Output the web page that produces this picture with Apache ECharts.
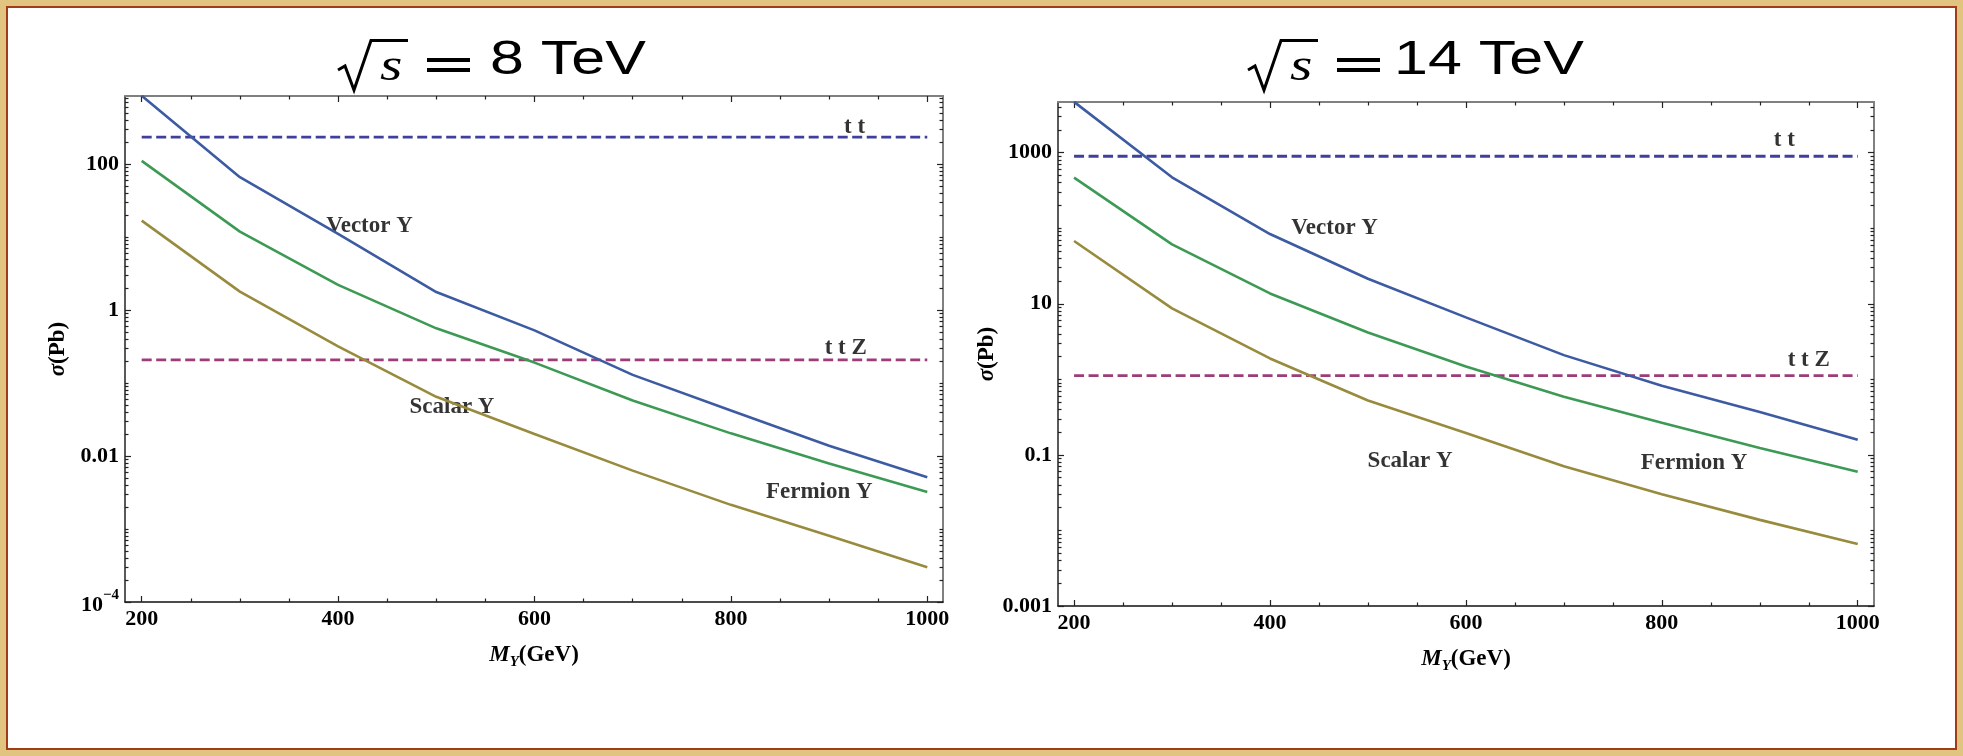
<!DOCTYPE html>
<html>
<head>
<meta charset="utf-8">
<script src="https://cdn.jsdelivr.net/npm/echarts@6/dist/echarts.min.js"></script>
<style>
  html, body { margin: 0; padding: 0; width: 1963px; height: 756px; overflow: hidden; background: #ffffff; }
  #frame { position: absolute; left: 0; top: 0; width: 1963px; height: 756px; box-sizing: border-box;
           border: 6px solid #e0c47f; background: #ffffff; }
  #inner { position: absolute; left: 0; top: 0; right: 0; bottom: 0; border: 2px solid #a23c16; }
  #chart { position: absolute; left: 0; top: 0; width: 1963px; height: 756px; }
</style>
</head>
<body>
<div id="frame"><div id="inner"></div></div>
<div id="chart"></div>
<script>
// ---------------- DATA ----------------
const massGeV = [200, 300, 400, 500, 600, 700, 800, 900, 1000];

// sqrt(s) = 8 TeV, cross sections in pb
const vector8  = [860, 65.8, 11.0, 1.76, 0.525, 0.129, 0.042, 0.0138, 0.0051];
const fermion8 = [110, 11.8, 2.2, 0.56, 0.19, 0.0575, 0.0204, 0.0079, 0.0032];
const scalar8  = [16.7, 1.78, 0.316, 0.0646, 0.020, 0.0063, 0.00214, 0.00081, 0.0003];
const ttbar8 = 232;
const ttZ8 = 0.207;

// sqrt(s) = 14 TeV, cross sections in pb
const vector14  = [4700, 472, 83.8, 21.4, 6.6, 2.09, 0.82, 0.37, 0.158];
const fermion14 = [467, 61.2, 13.7, 4.17, 1.48, 0.589, 0.266, 0.123, 0.060];
const scalar14  = [67.6, 8.7, 1.89, 0.525, 0.195, 0.0708, 0.0302, 0.0138, 0.0066];
const ttbar14 = 896;
const ttZ14 = 1.12;

// tick labels
const xTickValues = [200, 400, 600, 800, 1000];
const xTickLabels = ['200', '400', '600', '800', '1000'];
const xMinorTickValues = [250, 300, 350, 450, 500, 550, 650, 700, 750, 850, 900, 950];
const yTickDecades8 = [2, 0, -2, -4];
const yTickLabels8 = ['100', '1', '0.01', '{b|10}{s|\u22124}'];
const yTickDecades14 = [3, 1, -1, -3];
const yTickLabels14 = ['1000', '10', '0.1', '0.001'];

const seriesNames = ['Vector Y', 'Fermion Y', 'Scalar Y', 't t', 't t Z'];

// ---------------- LAYOUT / STYLE ----------------
const COLORS = { vector: '#3d5ba2', fermion: '#3d9a55', scalar: '#998b3d', tt: '#40409c', ttZ: '#9c3d78' };
const SERIF = '"Liberation Serif", "Times New Roman", serif';

const panels = [
  {
    grid: { left: 125, top: 96, width: 818, height: 506 },
    xMin: 183, xMax: 1016, yMin: 1e-4, yMax: 851,
    vector: vector8, fermion: fermion8, scalar: scalar8, tt: ttbar8, ttZ: ttZ8,
    tickDecades: yTickDecades8, tickLabels: yTickLabels8,
    annot: [[432, 14.2], [890, 0.0032], [516, 0.047], [926, 321], [917, 0.30]],
    yNameGap: 55, titleShift: 0, energy: '8'
  },
  {
    grid: { left: 1058, top: 102, width: 816, height: 504 },
    xMin: 183.6, xMax: 1016.6, yMin: 1e-3, yMax: 4680,
    vector: vector14, fermion: fermion14, scalar: scalar14, tt: ttbar14, ttZ: ttZ14,
    tickDecades: yTickDecades14, tickLabels: yTickLabels14,
    annot: [[466, 100], [833, 0.078], [543, 0.083], [925, 1470], [950, 1.8]],
    yNameGap: 56, titleShift: 910, energy: '14'
  }
];

const grids = [], xAxes = [], yAxes = [], series = [], graphics = [];

function minorLogTicks(lo, hi, majors) {
  const out = [];
  for (let k = Math.floor(lo) - 1; k <= Math.ceil(hi); k++) {
    for (let m = 1; m <= 9; m++) {
      const v = k + Math.log10(m);
      if (v >= lo - 1e-9 && v <= hi + 1e-9 && !(m === 1 && majors.indexOf(k) >= 0)) out.push(v);
    }
  }
  return out;
}

const tickLine = { color: '#222', width: 1.2 };
const xLabelMap = {};
xTickValues.forEach((v, i) => { xLabelMap[v] = xTickLabels[i]; });

panels.forEach((p, gi) => {
  grids.push(Object.assign({ containLabel: false }, p.grid));
  const lo = Math.log10(p.yMin), hi = Math.log10(p.yMax);
  const xb = xAxes.length;
  const xBase = { gridIndex: gi, type: 'value', min: p.xMin, max: p.xMax, splitLine: { show: false } };
  xAxes.push(
    Object.assign({}, xBase, {
      position: 'bottom',
      axisLine: { show: true, onZero: false, lineStyle: { color: '#111', width: 1.5 } },
      axisTick: { show: true, inside: true, length: 6, customValues: xTickValues, lineStyle: tickLine },
      axisLabel: { show: true, customValues: xTickValues, margin: 6, color: '#000',
                   formatter: v => xLabelMap[Math.round(v)] || '',
                   fontFamily: SERIF, fontWeight: 'bold', fontSize: 22 },
      name: '{m|M}{y|Y}{g|(GeV)}', nameLocation: 'middle', nameGap: 38,
      nameTextStyle: { rich: {
        m: { fontFamily: SERIF, fontStyle: 'italic', fontWeight: 'bold', fontSize: 23, color: '#000', lineHeight: 30, verticalAlign: 'middle' },
        y: { fontFamily: SERIF, fontStyle: 'italic', fontWeight: 'bold', fontSize: 15, color: '#000', lineHeight: 30, verticalAlign: 'bottom' },
        g: { fontFamily: SERIF, fontWeight: 'bold', fontSize: 23, color: '#000', lineHeight: 30, verticalAlign: 'middle' }
      } }
    }),
    Object.assign({}, xBase, {
      position: 'bottom', axisLine: { show: false, onZero: false },
      axisTick: { show: true, inside: true, length: 3.5, customValues: xMinorTickValues, lineStyle: tickLine },
      axisLabel: { show: false }
    }),
    Object.assign({}, xBase, {
      position: 'top',
      axisLine: { show: true, onZero: false, lineStyle: { color: '#808080', width: 2 } },
      axisTick: { show: true, inside: true, length: 6, customValues: xTickValues, lineStyle: tickLine },
      axisLabel: { show: false }
    }),
    Object.assign({}, xBase, {
      position: 'top', axisLine: { show: false, onZero: false },
      axisTick: { show: true, inside: true, length: 3.5, customValues: xMinorTickValues, lineStyle: tickLine },
      axisLabel: { show: false }
    })
  );

  const yb = yAxes.length;
  const minors = minorLogTicks(lo, hi, p.tickDecades);
  const yBase = { gridIndex: gi, type: 'value', min: lo, max: hi, splitLine: { show: false } };
  const labelMap = {};
  p.tickDecades.forEach((d, i) => { labelMap[d] = p.tickLabels[i]; });
  yAxes.push(
    { gridIndex: gi, type: 'log', logBase: 10, min: p.yMin, max: p.yMax, show: false,
      axisLine: { onZero: false }, splitLine: { show: false } },
    Object.assign({}, yBase, {
      position: 'left',
      axisLine: { show: true, onZero: false, lineStyle: { color: '#222', width: 1.5 } },
      axisTick: { show: true, inside: true, length: 6, customValues: p.tickDecades, lineStyle: tickLine },
      axisLabel: { show: true, customValues: p.tickDecades, margin: 6, color: '#000',
                   fontFamily: SERIF, fontWeight: 'bold', fontSize: 22,
                   formatter: v => { const k = Math.round(v); return labelMap[k] !== undefined ? labelMap[k] : ''; },
                   rich: {
                     b: { fontFamily: SERIF, fontWeight: 'bold', fontSize: 22, color: '#000', lineHeight: 28, verticalAlign: 'bottom' },
                     s: { fontFamily: SERIF, fontWeight: 'bold', fontSize: 15, color: '#000', lineHeight: 28, verticalAlign: 'top' }
                   } },
      name: '{s|\u03c3}{g|(Pb)}', nameLocation: 'middle', nameGap: p.yNameGap,
      nameTextStyle: { rich: {
        s: { fontFamily: SERIF, fontStyle: 'italic', fontWeight: 'bold', fontSize: 23, color: '#000' },
        g: { fontFamily: SERIF, fontWeight: 'bold', fontSize: 23, color: '#000' }
      } }
    }),
    Object.assign({}, yBase, {
      position: 'left', axisLine: { show: false, onZero: false },
      axisTick: { show: true, inside: true, length: 3.5, customValues: minors, lineStyle: tickLine },
      axisLabel: { show: false }
    }),
    Object.assign({}, yBase, {
      position: 'right',
      axisLine: { show: true, onZero: false, lineStyle: { color: '#808080', width: 2 } },
      axisTick: { show: true, inside: true, length: 6, customValues: p.tickDecades, lineStyle: tickLine },
      axisLabel: { show: false }
    }),
    Object.assign({}, yBase, {
      position: 'right', axisLine: { show: false, onZero: false },
      axisTick: { show: true, inside: true, length: 3.5, customValues: minors, lineStyle: tickLine },
      axisLabel: { show: false }
    })
  );

  const solid = (name, vals, color) => ({
    type: 'line', name, xAxisIndex: xb, yAxisIndex: yb, symbol: 'none', clip: true,
    data: massGeV.map((m, i) => [m, vals[i]]),
    lineStyle: { color, width: 2.6 }, silent: true, animation: false
  });
  const dashed = (name, val, color) => ({
    type: 'line', name, xAxisIndex: xb, yAxisIndex: yb, symbol: 'none', clip: true,
    data: massGeV.map(m => [m, val]),
    lineStyle: { color, width: 2.8, type: [10, 4.5] }, silent: true, animation: false
  });
  series.push(
    dashed('t t', p.tt, COLORS.tt),
    dashed('t t Z', p.ttZ, COLORS.ttZ),
    solid('Vector Y', p.vector, COLORS.vector),
    solid('Fermion Y', p.fermion, COLORS.fermion),
    solid('Scalar Y', p.scalar, COLORS.scalar),
    {
      type: 'scatter', xAxisIndex: xb, yAxisIndex: yb, symbolSize: 0, silent: true, animation: false,
      data: seriesNames.map((n, i) => ({ name: n, value: p.annot[i] })),
      label: { show: true, position: 'inside', formatter: d => d.name, color: '#000',
               textBorderWidth: 0, textBorderColor: 'transparent', textShadowBlur: 0,
               fontFamily: SERIF, fontWeight: 'bold', fontSize: 23 }
    }
  );

  // title: sqrt(s) = N TeV
  const s = p.titleShift;
  graphics.push(
    { type: 'polyline', silent: true,
      shape: { points: [[338 + s, 70], [345 + s, 66], [354 + s, 90], [371 + s, 40.5], [408 + s, 40.5]] },
      style: { stroke: '#000', lineWidth: 3, fill: null, lineJoin: 'miter' } },
    { type: 'text', silent: true, x: 380 + s, y: 68, scaleX: 1.25,
      style: { text: 's', font: 'italic 46px "Liberation Serif"', fill: '#000', verticalAlign: 'middle' } },
    { type: 'rect', silent: true, shape: { x: 427 + s, y: 58, width: 43, height: 4 }, style: { fill: '#000' } },
    { type: 'rect', silent: true, shape: { x: 427 + s, y: 68, width: 43, height: 4 }, style: { fill: '#000' } },
    { type: 'text', silent: true, x: 490 + (s ? s - 6 : 0), y: 61, scaleX: 1.27,
      style: { text: p.energy + ' TeV', font: '48px "Liberation Sans"', fill: '#000', verticalAlign: 'middle' } }
  );
});

const chart = echarts.init(document.getElementById('chart'), null, { renderer: 'canvas' });
chart.setOption({
  backgroundColor: 'transparent',
  animation: false,
  grid: grids,
  xAxis: xAxes,
  yAxis: yAxes,
  series: series,
  graphic: graphics
});
</script>
</body>
</html>
